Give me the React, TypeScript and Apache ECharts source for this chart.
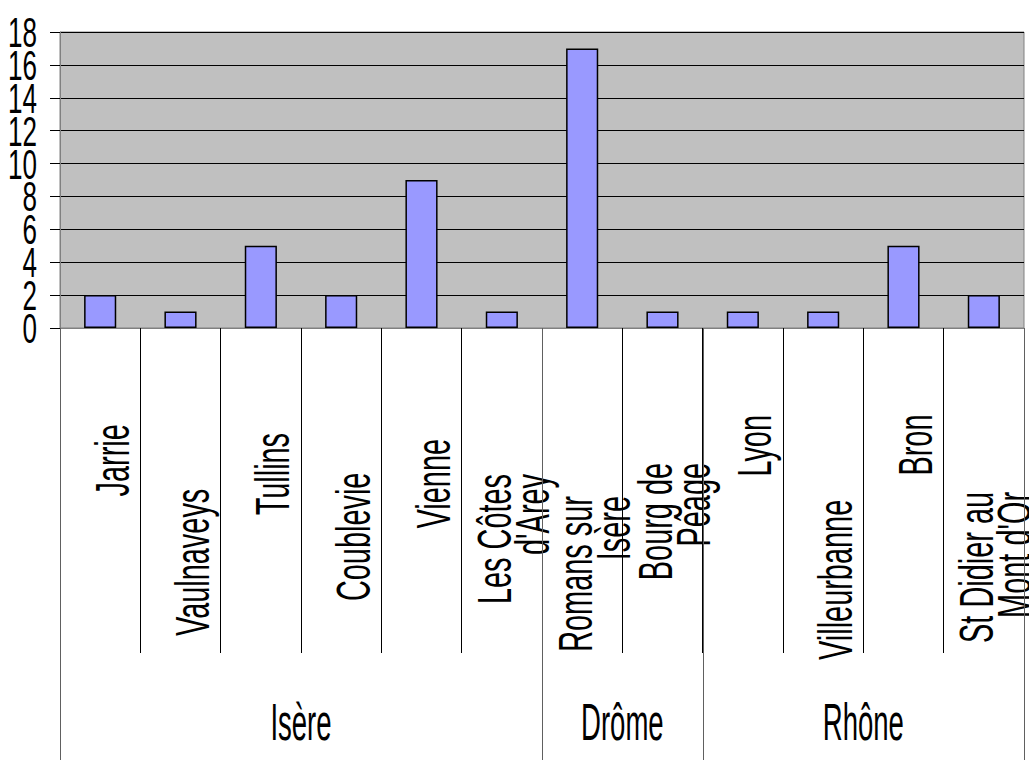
import React, { useEffect, useRef } from "react";
import * as echarts from "echarts";

const categories = [
  "Jarrie",
  "Vaulnaveys",
  "Tullins",
  "Coublevie",
  "Vienne",
  "Les Côtes\nd'Arey",
  "Romans sur\nIsère",
  "Bourg de\nPéage",
  "Lyon",
  "Villeurbanne",
  "Bron",
  "St Didier au\nMont d'Or",
];
const counts = [2, 1, 5, 2, 9, 1, 17, 1, 1, 1, 5, 2];
const groups = ["Isère", "Drôme", "Rhône"];
const groupSizes = [6, 2, 4];
const yTicks = [0, 2, 4, 6, 8, 10, 12, 14, 16, 18];

const FONT = "Liberation Sans, Arial, sans-serif";
const W = 1029;
const H = 760;

export default function App() {
  const ref = useRef<HTMLDivElement>(null);

  useEffect(() => {
    if (!ref.current) return;
    const chart = echarts.init(ref.current, null, { renderer: "svg", width: W, height: H });
    chart.setOption({
      animation: false,
      grid: {
        left: 60,
        top: 32,
        right: 5,
        bottom: 432,
        show: true,
        backgroundColor: "#C0C0C0",
        borderColor: "#808080",
        borderWidth: 1,
      },
      xAxis: {
        type: "category",
        data: categories,
        boundaryGap: true,
        axisLine: { show: true, lineStyle: { color: "#808080", width: 1 } },
        axisTick: { show: true, interval: 0, length: 325, lineStyle: { color: "#000", width: 1 } },
        axisLabel: { show: false },
        splitLine: { show: false },
      },
      yAxis: {
        type: "value",
        min: 0,
        max: 18,
        interval: 2,
        axisLine: { show: true, lineStyle: { color: "#808080", width: 1 } },
        axisTick: { show: true, length: 10, lineStyle: { color: "#000", width: 1 } },
        axisLabel: { show: false },
        splitLine: { show: true, lineStyle: { color: "#000", width: 1 } },
      },
      series: [
        {
          type: "bar",
          data: counts,
          barWidth: "40%",
          itemStyle: { color: "#9999FF", borderColor: "#000", borderWidth: 1.5 },
        },
      ],
    });

    const ctx = document.createElement("canvas").getContext("2d")!;
    const measure = (t: string, size: number) => {
      ctx.font = `${size}px "Liberation Sans"`;
      return Math.max(...t.split("\n").map((l) => ctx.measureText(l).width));
    };

    const px = (i: number) => chart.convertToPixel({ xAxisIndex: 0 }, i) as number;
    const py = (v: number) => chart.convertToPixel({ yAxisIndex: 0 }, v) as number;
    const band = px(1) - px(0);
    const boundary = (i: number) => px(0) - band / 2 + i * band;
    const plotBottom = py(0);

    const elements: any[] = [];

    // y-axis labels
    yTicks.forEach((v) => {
      elements.push({
        type: "text",
        x: 37,
        y: py(v),
        scaleX: 0.62,
        style: {
          text: String(v),
          fontFamily: FONT,
          fontSize: 42,
          fill: "#000",
          align: "right",
          verticalAlign: "middle",
        },
      });
    });

    // category labels (rotated)
    const catSize = 49;
    const catScale = 0.59;
    categories.forEach((c, i) => {
      const len = measure(c, catSize) * catScale;
      elements.push({
        type: "text",
        x: px(i) + 12,
        y: 362 + 0.86 * len,
        rotation: Math.PI / 2,
        scaleX: catScale,
        style: {
          text: c,
          fontFamily: FONT,
          fontSize: catSize,
          lineHeight: 38,
          fill: "#000",
          align: "right",
          verticalAlign: "middle",
        },
      });
    });

    // group lines & labels
    let start = 0;
    const bounds = [0];
    groupSizes.forEach((n, g) => {
      const end = start + n;
      bounds.push(end);
      elements.push({
        type: "text",
        x: (boundary(start) + boundary(end)) / 2,
        y: H - 37,
        scaleX: 0.54,
        style: {
          text: groups[g],
          fontFamily: FONT,
          fontSize: 51,
          fill: "#000",
          align: "center",
          verticalAlign: "middle",
        },
      });
      start = end;
    });
    bounds.forEach((b) => {
      const x = Math.round(boundary(b)) + 0.5;
      elements.push({
        type: "line",
        shape: { x1: x, y1: plotBottom, x2: x, y2: H },
        style: { stroke: "#606060", lineWidth: 1 },
        z: 10,
      });
    });

    chart.setOption({ graphic: { elements } });

    return () => chart.dispose();
  }, []);

  return (
    <div
      ref={ref}
      style={{ position: "fixed", left: 0, top: 0, width: W, height: H, background: "#fff" }}
    />
  );
}
